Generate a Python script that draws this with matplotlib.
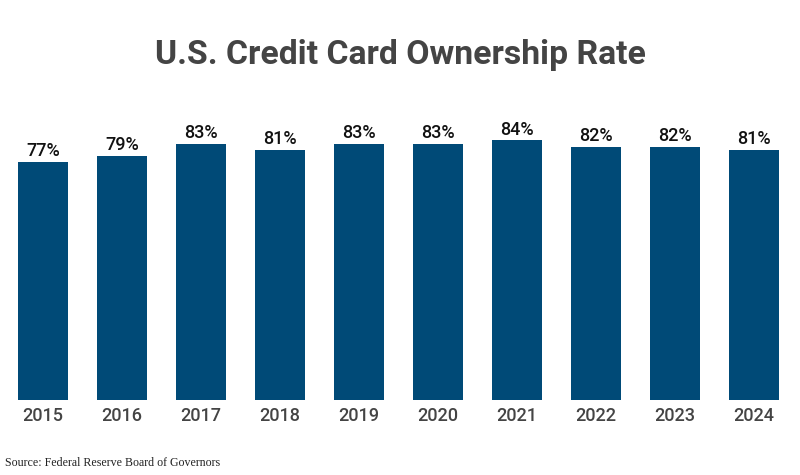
import matplotlib
matplotlib.use("Agg")
import matplotlib.pyplot as plt

years = ["2015", "2016", "2017", "2018", "2019", "2020", "2021", "2022", "2023", "2024"]
rates = [77, 79, 83, 81, 83, 83, 84, 82, 82, 81]

W, H = 800, 475
fig = plt.figure(figsize=(W / 100, H / 100), dpi=100)
ax = fig.add_axes([3.5 / W, 75 / H, 790 / W, 309 / H])

x = list(range(len(years)))
bars = ax.bar(x, rates, width=0.63, color="#004A77")
ax.set_xlim(-0.5, len(years) - 0.5)
ax.set_ylim(0, 100)

for xi, v in zip(x, rates):
    ax.text(xi, v + 0.6, f"{v}%", ha="center", va="bottom", fontsize=13,
            family="Roboto", fontweight="medium", color="#111111")

ax.set_xticks(x)
ax.set_xticklabels(years, family="Roboto", fontweight="medium", fontsize=13, color="#444444")
ax.tick_params(axis="x", length=0, pad=5)
ax.set_yticks([])
for s in ax.spines.values():
    s.set_visible(False)

fig.text(0.5, 1 - 55 / H, "U.S. Credit Card Ownership Rate", ha="center", va="center",
         family="Roboto", fontweight="bold", fontsize=24.3, color="#444444")
fig.text(5 / W, 1 - 463 / H, "Source: Federal Reserve Board of Governors", ha="left", va="center",
         family="Liberation Serif", fontsize=8.6, color="#222222")

fig.savefig("out.png", dpi=100)
